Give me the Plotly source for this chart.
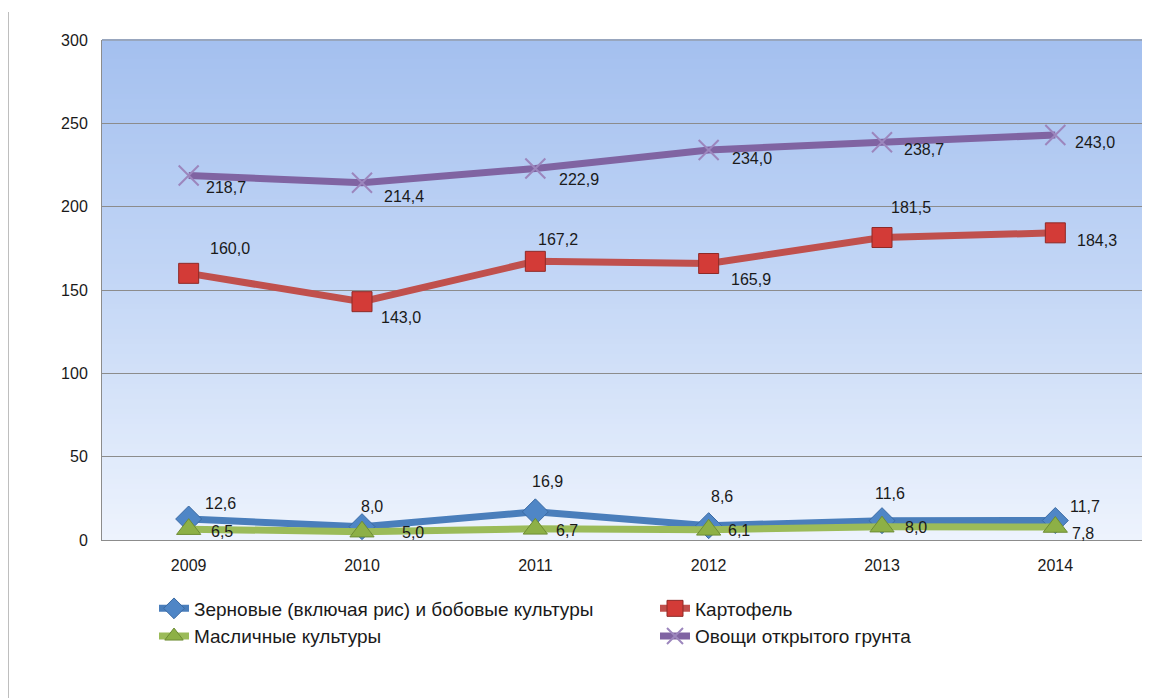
"""Line chart: crop yields by year."""
import plotly.graph_objects as go

years = ["2009", "2010", "2011", "2012", "2013", "2014"]
grain = [12.6, 8.0, 16.9, 8.6, 11.6, 11.7]
potato = [160.0, 143.0, 167.2, 165.9, 181.5, 184.3]
oilseed = [6.5, 5.0, 6.7, 6.1, 8.0, 7.8]
vegetables = [218.7, 214.4, 222.9, 234.0, 238.7, 243.0]
y_ticks = [0, 50, 100, 150, 200, 250, 300]


def fmt(v):
    return f"{v:.1f}".replace(".", ",")


def mix(c1, c2, t):
    a = [int(c1[i:i + 2], 16) for i in (1, 3, 5)]
    b = [int(c2[i:i + 2], 16) for i in (1, 3, 5)]
    return "rgb({},{},{})".format(*[round(p + (q - p) * t) for p, q in zip(a, b)])


# vertical gradient of the plot area, drawn as thin strips under the grid
bg_shapes = []
steps = 100
for i in range(steps):
    t = i / (steps - 1)
    if t < 0.5:
        col = mix("#a4c0ef", "#c4d7f6", t / 0.5)
    else:
        col = mix("#c4d7f6", "#edf3fd", (t - 0.5) / 0.5)
    bg_shapes.append(dict(
        type="rect", xref="paper", yref="paper", layer="below",
        x0=0, x1=1, y0=1 - (i + 1) / steps, y1=1 - i / steps + 0.002,
        fillcolor=col, line=dict(width=0),
    ))

# (name, values, line colour, marker, label offsets in px as (dx, dy down))
series = [
    ("Зерновые (включая рис) и бобовые культуры", grain, "#4a7ebb",
     dict(symbol="diamond", size=20, color="#4f86c6", line=dict(color="#3b6aa3", width=1)),
     [(32, -16), (10, -20), (12, -30), (13, -29), (8, -27), (30, -14)]),
    ("Картофель", potato, "#c0504d",
     dict(symbol="square", size=20, color="#d33b37", line=dict(color="#8e2a27", width=1)),
     [(41, -25), (39, 16), (23, -22), (42, 16), (29, -30), (42, 8)]),
    ("Масличные культуры", oilseed, "#9bbb59",
     dict(symbol="triangle-up", size=21, color="#8db046", line=dict(color="#6d8c34", width=1)),
     [(33, 2), (51, 1), (32, 2), (30, 1), (34, 1), (28, 6)]),
    ("Овощи открытого грунта", vegetables, "#8064a2",
     dict(symbol="x-thin", size=20, line=dict(color="#9c86bd", width=2)),
     [(37, 12), (42, 14), (44, 11), (43, 8), (42, 7), (40, 7)]),
]

fig = go.Figure()
annotations = []
for name, values, color, marker, offsets in series:
    fig.add_trace(go.Scatter(
        x=years, y=values, name=name,
        mode="lines+markers",
        line=dict(color=color, width=7),
        marker=marker,
        cliponaxis=False,
    ))
    # data labels; x is the category index on the category axis
    for idx, (v, (dx, dy)) in enumerate(zip(values, offsets)):
        annotations.append(dict(
            x=idx, y=v, xref="x", yref="y",
            text=fmt(v), showarrow=False,
            xshift=dx, yshift=-dy,
            font=dict(family="Liberation Sans, Arial", size=16, color="#1a1a1a"),
        ))

fig.update_layout(
    width=1176, height=698,
    margin=dict(l=94, r=42, t=32, b=166),
    paper_bgcolor="white",
    plot_bgcolor="rgba(0,0,0,0)",
    font=dict(family="Liberation Sans, Arial", size=16, color="#1a1a1a"),
    xaxis=dict(
        type="category", range=[-0.5, 5.5],
        showgrid=False, showline=True, linecolor="#8c8c8c", linewidth=1,
        ticks="", ticklabelstandoff=11,
    ),
    yaxis=dict(
        range=[0, 300], tickvals=y_ticks,
        showgrid=True, gridcolor="#8c8c8c", gridwidth=1,
        showline=True, linecolor="#8c8c8c", linewidth=1,
        ticks="", ticklabelstandoff=10, zeroline=False,
    ),
    legend=dict(
        orientation="h", x=0.05, y=-0.099, xanchor="left", yanchor="top",
        entrywidth=456, entrywidthmode="pixels",
        font=dict(size=19, color="#1a1a1a"), tracegroupgap=0,
        itemwidth=30,
    ),
    annotations=annotations,
    shapes=bg_shapes + [
        dict(type="line", xref="paper", yref="paper",
             x0=-0.0904, x1=-0.0904, y0=1.056, y1=-0.34,
             line=dict(color="#a6a6a6", width=1.5)),
        dict(type="line", xref="paper", yref="paper",
             x0=0, x1=1, y0=1, y1=1,
             line=dict(color="#8c8c8c", width=1)),
    ],
)

fig.write_html("out.html")
